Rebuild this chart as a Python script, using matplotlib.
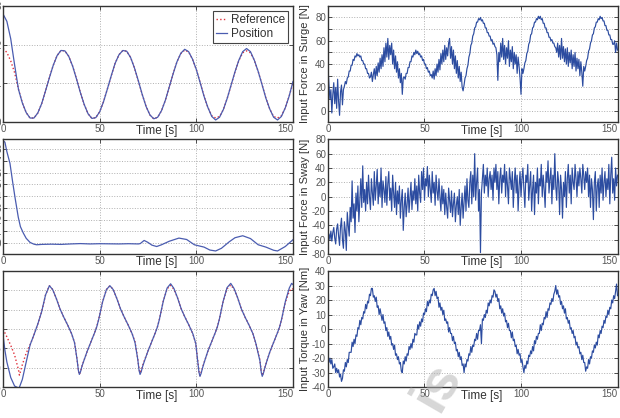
import numpy as np
import matplotlib
matplotlib.use('Agg')
import matplotlib.pyplot as plt
from matplotlib.ticker import MultipleLocator

plt.rcParams['font.family'] = ['Liberation Sans', 'DejaVu Sans']
plt.rcParams['axes.unicode_minus'] = False

# ---- left column: positions ----
# surge position, every 2 s
t_surge = np.arange(0, 151, 2)
surge_ref = [1.90, 1.80, 1.58, 1.28, 0.85, 0.50, 0.25, 0.11, 0.11, 0.24,
             0.48, 0.81, 1.15, 1.47, 1.72, 1.85, 1.84, 1.70, 1.45, 1.12,
             0.77, 0.46, 0.22, 0.10, 0.12, 0.27, 0.53, 0.86, 1.20, 1.52,
             1.74, 1.85, 1.83, 1.67, 1.40, 1.07, 0.72, 0.41, 0.19, 0.09,
             0.13, 0.30, 0.57, 0.91, 1.25, 1.56, 1.77, 1.86, 1.81, 1.63,
             1.36, 1.02, 0.67, 0.38, 0.17, 0.11, 0.15, 0.33, 0.62, 0.96,
             1.30, 1.59, 1.79, 1.84, 1.79, 1.60, 1.31, 0.97, 0.62, 0.34,
             0.15, 0.11, 0.17, 0.37, 0.67, 1.01]
surge_pos = [2.79, 2.60, 2.15, 1.48, 0.85, 0.50, 0.25, 0.11, 0.11, 0.24,
             0.48, 0.81, 1.15, 1.47, 1.72, 1.85, 1.84, 1.70, 1.45, 1.12,
             0.77, 0.46, 0.22, 0.10, 0.12, 0.27, 0.53, 0.86, 1.20, 1.52,
             1.74, 1.85, 1.83, 1.67, 1.40, 1.07, 0.72, 0.41, 0.19, 0.09,
             0.13, 0.30, 0.57, 0.91, 1.25, 1.56, 1.78, 1.88, 1.82, 1.63,
             1.36, 1.02, 0.67, 0.38, 0.15, 0.06, 0.13, 0.33, 0.62, 0.96,
             1.30, 1.60, 1.82, 1.90, 1.82, 1.60, 1.31, 0.97, 0.62, 0.34,
             0.13, 0.06, 0.15, 0.37, 0.67, 1.05]

# sway position (single trace)
t_sway = [0, 1, 2, 3.6, 5, 6.2, 7.9, 9, 10.5, 12, 14, 16, 17.4, 20, 25, 30,
          35, 40, 45, 50, 55, 60, 65, 70, 71, 73, 75, 77, 79.5, 82, 86, 91,
          95, 99, 104, 107, 110, 113, 117, 120, 124, 128, 132, 136, 140,
          142, 146, 150]
sway_pos = [8.75, 8.6, 7.8, 6.8, 5.2, 3.9, 2.2, 1.4, 0.85, 0.4, 0.05, -0.1,
            -0.15, -0.12, -0.1, -0.12, -0.08, -0.05, -0.08, -0.06, -0.07,
            -0.08, -0.06, -0.08, -0.05, 0.22, 0.05, -0.18, -0.3, -0.15, 0.15,
            0.42, 0.3, -0.15, -0.35, -0.6, -0.68, -0.45, 0.1, 0.45, 0.62,
            0.38, -0.15, -0.35, -0.62, -0.68, -0.3, 0.28]

# yaw angle, key points
t_yaw = [0, 1, 2, 4, 6, 8, 8.5, 10, 12, 14, 16, 18, 20, 22, 24,
         25.7, 27.5, 29.5, 31.5, 33.5, 35.5, 37.0, 38.3, 39.0, 39.5,
         40.1, 40.9, 41.8, 43.5, 45.5, 47.5, 48.5, 49.5, 51.5, 53.5, 55.3,
         57.0, 58.8, 60.8, 62.8, 64.8, 66.8, 68.3, 69.7, 70.4, 70.9,
         71.5, 72.3, 73.2, 74.9, 76.9, 78.9, 79.9, 80.9, 82.9, 84.9, 86.7,
         88.4, 90.2, 92.2, 94.2, 96.2, 98.2, 99.7, 100.7, 101.4, 101.9,
         102.5, 103.3, 104.2, 105.9, 107.9, 109.9, 110.9, 111.9, 113.9, 115.9, 117.8,
         119.5, 121.3, 123.3, 125.3, 127.3, 129.3, 130.8, 132.9, 133.6, 134.1,
         134.7, 135.5, 136.4, 138.1, 140.1, 142.1, 143.1, 144.1, 146.1, 148.1, 149.3, 150]
yaw_pos = [-0.15, -0.55, -0.85, -1.25, -1.47, -1.52, -1.50, -1.30, -0.85, -0.41, -0.15, 0.13, 0.45, 0.88, 1.12,
           1.02, 0.80, 0.52, 0.30, 0.10, -0.12, -0.35, -0.78, -1.07, -1.17,
           -1.10, -0.95, -0.82, -0.58, -0.33, -0.08, 0.06, 0.25, 0.70, 1.02, 1.12,
           1.02, 0.80, 0.52, 0.30, 0.10, -0.12, -0.35, -0.78, -1.07, -1.17,
           -1.10, -0.95, -0.82, -0.58, -0.33, -0.08, 0.06, 0.25, 0.72, 1.06, 1.17,
           1.05, 0.82, 0.52, 0.30, 0.10, -0.12, -0.37, -0.82, -1.12, -1.22,
           -1.14, -0.99, -0.84, -0.58, -0.33, -0.08, 0.06, 0.25, 0.72, 1.07, 1.18,
           1.05, 0.82, 0.52, 0.30, 0.10, -0.12, -0.37, -0.82, -1.12, -1.22,
           -1.14, -0.99, -0.84, -0.58, -0.33, -0.08, 0.06, 0.25, 0.72, 1.06, 1.18, 1.15]
yaw_ref = [0.0, -0.10, -0.20, -0.42, -0.67, -1.05, -1.19, -0.92, -0.62, -0.41, -0.15, 0.13, 0.45, 0.88, 1.12,
           1.02, 0.80, 0.52, 0.30, 0.10, -0.12, -0.35, -0.78, -1.07, -1.17,
           -1.10, -0.95, -0.82, -0.58, -0.33, -0.08, 0.06, 0.25, 0.70, 1.02, 1.12,
           1.02, 0.80, 0.52, 0.30, 0.10, -0.12, -0.33, -0.76, -1.04, -1.13,
           -1.07, -0.93, -0.80, -0.58, -0.33, -0.08, 0.06, 0.25, 0.72, 1.04, 1.13,
           1.03, 0.82, 0.52, 0.30, 0.10, -0.12, -0.37, -0.80, -1.10, -1.20,
           -1.12, -0.98, -0.84, -0.58, -0.33, -0.08, 0.06, 0.25, 0.72, 1.04, 1.14,
           1.03, 0.82, 0.52, 0.30, 0.10, -0.12, -0.37, -0.80, -1.10, -1.20,
           -1.12, -0.98, -0.84, -0.58, -0.33, -0.08, 0.06, 0.25, 0.70, 0.98, 1.05, 1.03]

# ---- right column: inputs, every 0.5 s ----
t_in = np.arange(0, 150.5, 0.5)
force_surge = [
    38, 22, 10, 18, -2, 14, 24, 6, 20, 2, 27, 8, -4, 16, 22, 5, 18,
    21, 25, 23, 28, 29, 34, 34, 39, 39, 44, 43, 47, 46, 49, 47, 48, 46, 47, 43, 43, 40, 40, 36, 36, 32, 32, 28, 29,
    33, 25, 31, 36, 27, 38, 30, 41, 33, 45, 36, 48, 38, 54, 42, 58, 46, 62, 44, 56, 48, 58, 40, 52, 36, 47, 33, 42, 28, 36, 24, 32, 14, 28,
    29, 27, 32, 32, 37, 37, 42, 42, 47, 46, 50, 48, 52, 49, 51, 48, 49, 46, 47, 43, 44, 40, 40, 36, 37, 33, 34, 30, 31, 28,
    34, 27, 36, 30, 40, 33, 44, 35, 49, 40, 52, 42, 56, 44, 54, 47, 58, 62, 45, 55, 40, 52, 36, 47, 32, 43, 28, 38, 25, 33, 20, 17,
    22, 28, 30, 36, 39, 46, 49, 56, 58, 64, 66, 71, 72, 76, 76, 79, 78, 80, 77, 78, 75, 75, 71, 71, 67, 67, 64, 64, 60, 61, 57, 58, 55, 54,
    48, 26, 50, 42, 58, 46, 62, 44, 56, 40, 54, 45, 60, 38, 52, 42, 55, 36, 50, 40, 48, 32, 46, 38, 28, 14, 36, 32,
    36, 41, 43, 49, 51, 57, 59, 65, 66, 71, 72, 76, 76, 79, 78, 81, 79, 81, 78, 79, 75, 75, 71, 71, 67, 67, 63, 63, 60, 61, 58, 58, 55, 54,
    50, 58, 46, 56, 44, 62, 45, 55, 42, 53, 40, 54, 38, 50, 41, 52, 36, 48, 38, 50, 34, 45, 36, 44, 30, 42, 33, 21, 38, 34,
    38, 43, 45, 51, 53, 58, 60, 65, 66, 71, 72, 76, 76, 79, 78, 81, 79, 80, 77, 77, 73, 73, 69, 69, 65, 65, 61, 61, 57, 57, 60, 50, 58, 52]
force_sway = [
    -58, -52, -60, -48, -62, -50, -43, -58, -66, -45,
    -38, -55, -68, -42, -30, -60, -72, -35, -48, -75,
    -22, -40, -55, -15, -35, 22, -30, -10, -50, 5,
    -20, 15, -35, -5, 25, -15, 43, -8, 10, -20,
    20, -10, 30, 0, -18, 25, 5, -12, 35, -5,
    15, 38, -10, 20, 0, 40, -15, 22, 10, -8,
    28, -12, 18, 35, -5, 12, -20, 30, 5, -15,
    20, -25, 8, -10, 15, -30, -5, 10, -47, -15,
    5, -28, -10, 12, -22, 0, 20, -18, 8, -5,
    25, -10, 15, -20, 30, 5, -8, 35, 10, 40,
    -5, 25, 15, 42, 0, 30, 10, -8, 35, 5,
    20, -12, 30, 8, -5, 25, 0, -20, 15, -10,
    10, -25, 5, -15, -30, 12, -5, -22, 8, -28,
    -10, 5, -35, -12, 0, -25, 10, -40, -15, 5,
    -30, -8, 15, -20, 25, -5, -15, 20, 35, -10,
    30, 0, 60, -5, 20, 40, -20, 10, -78, 5,
    25, 45, 5, 30, 15, 40, 0, 25, 35, 10,
    30, -5, 40, 20, 45, 10, 35, -10, 25, 40,
    5, 30, 20, 45, 0, 35, 15, -10, 40, 25,
    10, 35, -15, 20, 40, 5, 30, -20, 15, 35,
    0, 25, 40, 10, -15, 30, 20, 45, -5, 15,
    35, -20, 10, 30, -25, 20, 5, 40, -10, 25,
    15, 45, 0, 30, 10, -15, 35, 20, 50, 5,
    25, 40, -10, 30, 10, 60, 15, -5, 35, 20,
    -25, 30, 10, -30, 20, 0, 35, -15, 25, 45,
    5, 30, -10, 40, 20, 10, 45, 25, 0, 35,
    15, 40, 25, 5, 45, 30, 10, 35, 20, 40,
    0, 30, -15, 25, 10, -32, 20, 35, -20, 15,
    25, -15, 30, 5, 40, -5, 20, 35, 0, 25,
    10, 45, -10, 30, 55, 5, 25, -5, 40, 15,
    30]
torque_yaw = [
    -19, -23, -20, -24, -21, -27, -26, -24, -30, -27, -30, -28, -33, -31, -36,
    -34, -28, -29, -23, -26, -21, -23, -16, -16, -16, -9, -12, -7, -10, -4, -5, 1, 0, 6, 3, 8, 7, 12, 11, 17, 14, 19, 18, 24, 23, 28,
    28, 22, 23, 19, 22, 15, 16, 10, 14, 10, 6, 10, 4, 5, -1, 1, -5, -2, -7, -5, -11, -10, -14, -11, -18, -17, -21, -19, -24, -23, -29,
    -30, -22, -24, -19, -22, -17, -18, -12, -14, -10, -13, -7, -9, -3, -4, -4, 3, 0, 5, 2, 7, 5, 11, 10, 14, 12, 19, 16, 20, 18, 24, 23, 27, 28,
    23, 26, 21, 22, 15, 18, 13, 15, 10, 13, 6, 7, 4, 5, -2, 1, -3, -3, -8, -5, -10, -9, -15, -14, -19, -16, -21, -19, -25, -24, -30,
    -24, -26, -21, -22, -17, -18, -12, -16, -11, -12, -7, -8, -3, -7, -1, -1, 3, -10, 7, 6, 10, 8, 13, 11, 18, 16, 20, 18, 23, 22, 27,
    26, 22, 24, 19, 21, 14, 16, 11, 14, 9, 11, 5, 6, 1, 4, -1, -1, -6, -2, -8, -7, -12, -11, -17, -14, -18, -17, -23, -21, -26, -30,
    -25, -27, -22, -24, -18, -19, -15, -17, -12, -15, -8, -10, -5, -7, -3, -3, 3, -1, 4, 3, 8, 7, 12, 8, 14, 13, 18, 17, 21, 19, 24, 26, 30,
    24, 27, 22, 23, 17, 19, 14, 16, 11, 14, 7, 8, 4, 6, 0, 1, -3, -1, -6, -5, -11, -9, -13, -12, -17, -16, -21, -18, -23, -23, -29,
    -26, -27, -21, -24, -19, -20, -15, -16, -11, -13, -9, -11, -4, -6, -1, -3, 2, 1, 6, 4, 9, 8, 13, 10, 15, 14, 20, 18, 23, 21, 26, 31, 23]

blue = '#4a5cb0'
dblue = '#2c4ca0'
red = '#e0303a'

fig = plt.figure(figsize=(6.2, 4.18), dpi=100)

rows = [(0.7074, 0.2787), (0.3923, 0.2744), (0.0737, 0.2780)]
cols = [(0.00484, 0.4677), (0.529, 0.467)]


def style(ax):
    ax.set_xlim(0, 150)
    ax.set_xticks([0, 50, 100, 150])
    ax.tick_params(which='both', direction='in', length=3, width=0.6,
                   colors='#333333', labelcolor='#555555', labelsize=7,
                   top=True, right=True, pad=1.5)
    ax.grid(True, which='both', linestyle=':', color='#b0b0b0', linewidth=0.7)
    for s in ax.spines.values():
        s.set_color('#333333')
        s.set_linewidth(1.0)
    ax.set_xlabel('Time [s]', fontsize=8.5, color='#333333')
    ax.xaxis.set_label_coords(0.53, -0.02)


axes = {}
for r, (b, h) in enumerate(rows):
    for c, (l, w) in enumerate(cols):
        axes[r, c] = fig.add_axes([l, b, w, h])
        style(axes[r, c])

# top left
ax = axes[0, 0]
ax.plot(t_surge, surge_ref, ':', color=red, lw=1.0, label='Reference')
ax.plot(t_surge, surge_pos, '-', color=blue, lw=0.9, label='Position')
ax.set_ylim(0, 3)
ax.yaxis.set_major_locator(MultipleLocator(1))
leg = ax.legend(loc='upper right', fontsize=8.5, handlelength=0.9,
                handletextpad=0.3, borderpad=0.3, labelspacing=0.15,
                fancybox=False, framealpha=1, borderaxespad=0.4)
leg.get_frame().set_edgecolor('#444444')
leg.get_frame().set_linewidth(0.8)
for txt in leg.get_texts():
    txt.set_color('#333333')

# middle left
ax = axes[1, 0]
ax.plot(t_sway, sway_pos, '-', color=blue, lw=0.9)
ax.set_ylim(-0.94, 8.85)
ax.yaxis.set_major_locator(MultipleLocator(1))

# bottom left
ax = axes[2, 0]
ax.plot(t_yaw, yaw_ref, ':', color=red, lw=1.0)
ax.plot(t_yaw, yaw_pos, '-', color=blue, lw=0.9)
ax.set_ylim(-1.5, 1.5)
ax.yaxis.set_major_locator(MultipleLocator(0.5))

# top right
ax = axes[0, 1]
ax.plot(t_in, force_surge, '-', color=dblue, lw=0.85)
ax.set_ylim(-10, 90)
ax.yaxis.set_major_locator(MultipleLocator(20))
ax.yaxis.set_minor_locator(MultipleLocator(10))
ax.set_ylabel('Input Force in Surge [N]', fontsize=8, color='#333333')

# middle right
ax = axes[1, 1]
ax.plot(t_in, force_sway, '-', color=dblue, lw=0.85)
ax.set_ylim(-80, 80)
ax.yaxis.set_major_locator(MultipleLocator(20))
ax.set_ylabel('Input Force in Sway [N]', fontsize=8, color='#333333')

# bottom right
ax = axes[2, 1]
ax.plot(t_in, torque_yaw, '-', color=dblue, lw=0.85)
ax.set_ylim(-40, 40)
ax.yaxis.set_major_locator(MultipleLocator(10))
ax.set_ylabel('Input Torque in Yaw [Nm]', fontsize=8, color='#333333')

for r in range(3):
    axes[r, 1].yaxis.set_label_coords(-0.062, 0.5)

fig.canvas.draw()
for ax in axes.values():
    ax.get_xticklabels()[-1].set_horizontalalignment('right')

# faint watermark fragment
fig.text(0.705, 0.075, 'is', rotation=60, fontsize=40, color='#b0b0b0',
         alpha=0.5, fontweight='bold', ha='center', va='center', zorder=10)

fig.savefig('out.png', dpi=100)
